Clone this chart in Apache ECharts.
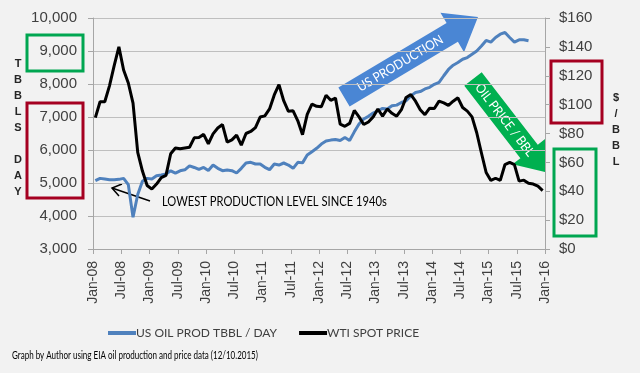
<!DOCTYPE html>
<html><head><meta charset="utf-8">
<script src="https://cdn.jsdelivr.net/npm/echarts@6/dist/echarts.min.js"></script>
<style>html,body{margin:0;padding:0;background:#f2f2f2}#c{width:640px;height:373px}</style>
</head><body><div id="c"></div>
<script>
// x tick labels (every 6 months from Jan-08)
const xTickLabels = ['Jan-08','Jul-08','Jan-09','Jul-09','Jan-10','Jul-10','Jan-11','Jul-11','Jan-12','Jul-12','Jan-13','Jul-13','Jan-14','Jul-14','Jan-15','Jul-15','Jan-16'];
// US oil production, thousand bbl/day, monthly from Jan-08
const usOilProd = [5070,5140,5120,5100,5100,5110,5140,4950,3960,4650,
5050,5140,5120,5220,5240,5270,5370,5300,5370,5400,
5520,5470,5410,5470,5380,5545,5444,5374,5394,5374,
5303,5444,5606,5626,5576,5576,5475,5404,5576,5545,
5606,5545,5444,5626,5610,5850,5950,6050,6180,6270,
6300,6320,6290,6380,6290,6550,6790,6940,7020,7120,
7190,7260,7240,7340,7360,7440,7490,7640,7740,7770,
7850,7900,7990,8050,8250,8440,8570,8650,8750,8800,
8900,9000,9150,9320,9270,9410,9510,9560,9410,9270,
9340,9340,9310];
// WTI spot price $/bbl, monthly from Jan-08
const wtiPrice = [91,102,102,113,127,140,124,115,101,67,54,44,
41.5,45,49.5,51,66,70,69.5,70,70.5,77,77.3,79.4,
72.9,79.7,83.8,86.2,74,75.6,78.9,71.9,80,81.4,84.1,91.4,
92.2,97,106.7,113.9,102.7,95.4,95.7,88.8,79.2,93.2,100.4,98.8,
98.5,106.5,103,104.5,86.5,85,87,96,91.5,86.2,88,91.5,
97,92,97,94,92,96.5,105,107,102.4,96.5,93,97.5,
97.3,102.4,101.2,99.5,102.4,104.7,98,95.5,91.5,80.5,66.5,53,
47.5,49,47.5,58.5,60,58.5,47,47.7,45.5,45,43.5,40.5];
const seriesNames = ['US OIL PROD TBBL / DAY','WTI SPOT PRICE'];

function arrowPts(tx,ty,px,py,bw,hw,hl){
  const dx=px-tx, dy=py-ty, L=Math.hypot(dx,dy), ux=dx/L, uy=dy/L, nx=-uy, ny=ux;
  const bx=px-ux*hl, by=py-uy*hl;
  return [[tx+nx*bw,ty+ny*bw],[bx+nx*bw,by+ny*bw],[bx+nx*hw,by+ny*hw],[px,py],[bx-nx*hw,by-ny*hw],[bx-nx*bw,by-ny*bw],[tx-nx*bw,ty-ny*bw]];
}
const CAL = 'Lato';
const blueA = {t:[344,97], p:[478,17]};
const greenA = {t:[473,79], p:[545,172]};
function mid(a,f){return [a.t[0]+(a.p[0]-a.t[0])*f, a.t[1]+(a.p[1]-a.t[1])*f];}
function ang(a){return -Math.atan2(a.p[1]-a.t[1], a.p[0]-a.t[0]);}

const chart = echarts.init(document.getElementById('c'), null, {renderer:'canvas'});
const bm = mid(blueA,0.42), gm = mid(greenA,0.44);
chart.setOption({
  backgroundColor:'#f2f2f2',
  animation:false,
  grid:{left:93,right:95,top:18,bottom:124},
  legend:{
    left:103, top:322, itemGap:22, itemWidth:28, itemHeight:4,
    icon:'rect',
    textStyle:{fontFamily:CAL, fontSize:12, color:'#404040', padding:[0,0,0,-5]},
    data:seriesNames
  },
  xAxis:{
    type:'value', min:0, max:96, interval:6,
    axisLine:{lineStyle:{color:'#a6a6a6'}},
    axisTick:{show:true, length:5, lineStyle:{color:'#a6a6a6'}},
    splitLine:{show:false},
    axisLabel:{rotate:90, margin:12, fontFamily:'Liberation Sans', fontSize:14, color:'#404040',
      formatter:v=>xTickLabels[Math.round(v/6)]}
  },
  yAxis:[
    {type:'value', min:3000, max:10000, interval:1000, position:'left',
     axisLine:{show:true, lineStyle:{color:'#a6a6a6'}},
     axisTick:{show:true, length:5, lineStyle:{color:'#a6a6a6'}},
     splitLine:{lineStyle:{color:'#bfbfbf'}},
     axisLabel:{margin:16, fontFamily:'Liberation Sans', fontSize:15, color:'#404040',
       formatter:v=>v.toLocaleString('en-US')}},
    {type:'value', min:0, max:160, interval:20, position:'right',
     axisLine:{show:true, lineStyle:{color:'#a6a6a6'}},
     axisTick:{show:true, length:5, lineStyle:{color:'#a6a6a6'}},
     splitLine:{show:false},
     axisLabel:{margin:14, fontFamily:'Liberation Sans', fontSize:15, color:'#404040',
       formatter:v=>'$'+v}}
  ],
  series:[
    {name:seriesNames[0], type:'line', yAxisIndex:0, symbol:'none', color:'#4f81bd',
     lineStyle:{width:3, color:'#4f81bd'},
     data:usOilProd.map((v,i)=>[i+0.5,v])},
    {name:seriesNames[1], type:'line', yAxisIndex:1, symbol:'none', color:'#000000',
     lineStyle:{width:3, color:'#000000'},
     data:wtiPrice.map((v,i)=>[i+0.5,v])}
  ],
  graphic:[
    {type:'rect', shape:{x:27,y:35,width:56,height:36}, style:{fill:'none', stroke:'#00a651', lineWidth:3}},
    {type:'rect', shape:{x:27,y:103,width:56,height:95}, style:{fill:'none', stroke:'#a50021', lineWidth:3}},
    {type:'rect', shape:{x:551,y:61,width:51,height:62}, style:{fill:'none', stroke:'#a50021', lineWidth:3}},
    {type:'rect', shape:{x:554,y:149,width:42,height:87}, style:{fill:'none', stroke:'#00a651', lineWidth:3}},
    {type:'text', x:18, y:56, style:{text:'T\nB\nB\nL\nS\n\nD\nA\nY', fill:'#262626', font:'bold 11px "Liberation Sans"', textAlign:'center', textVerticalAlign:'top', lineHeight:16}},
    {type:'text', x:616, y:90, style:{text:'$\n/\nB\nB\nL', fill:'#262626', font:'bold 11px "Liberation Sans"', textAlign:'center', textVerticalAlign:'top', lineHeight:16}},
    {type:'polygon', shape:{points:arrowPts(blueA.t[0],blueA.t[1],blueA.p[0],blueA.p[1],11,23,30)}, style:{fill:'#4a86d4'}},
    {type:'text', x:bm[0], y:bm[1], rotation:ang(blueA), scaleX:0.92, style:{text:'US PRODUCTION', fill:'#ffffff', font:'13px '+CAL, textAlign:'center', textVerticalAlign:'middle'}},
    {type:'polygon', shape:{points:arrowPts(greenA.t[0],greenA.t[1],greenA.p[0],greenA.p[1],11,21,26)}, style:{fill:'#00b050'}},
    {type:'text', x:gm[0], y:gm[1], rotation:ang(greenA), scaleX:0.92, style:{text:'OIL PRICE / BBL', fill:'#ffffff', font:'13px '+CAL, textAlign:'center', textVerticalAlign:'middle'}},
    {type:'text', x:162, y:202, scaleX:0.86, style:{text:'LOWEST PRODUCTION LEVEL SINCE 1940s', fill:'#000000', font:'13px '+CAL, textAlign:'left', textVerticalAlign:'middle'}},
    {type:'line', shape:{x1:150,y1:201,x2:112,y2:188}, style:{stroke:'#000', lineWidth:1.5}},
    {type:'polyline', shape:{points:[[122,184],[112,188],[119,196]]}, style:{stroke:'#000', lineWidth:1.5, fill:'none'}},
    {type:'text', x:12, y:355, scaleX:0.73, style:{text:'Graph by Author using EIA oil production and price data (12/10.2015)', fill:'#000000', font:'11px '+CAL, textAlign:'left', textVerticalAlign:'middle'}}
  ]
});
</script></body></html>
